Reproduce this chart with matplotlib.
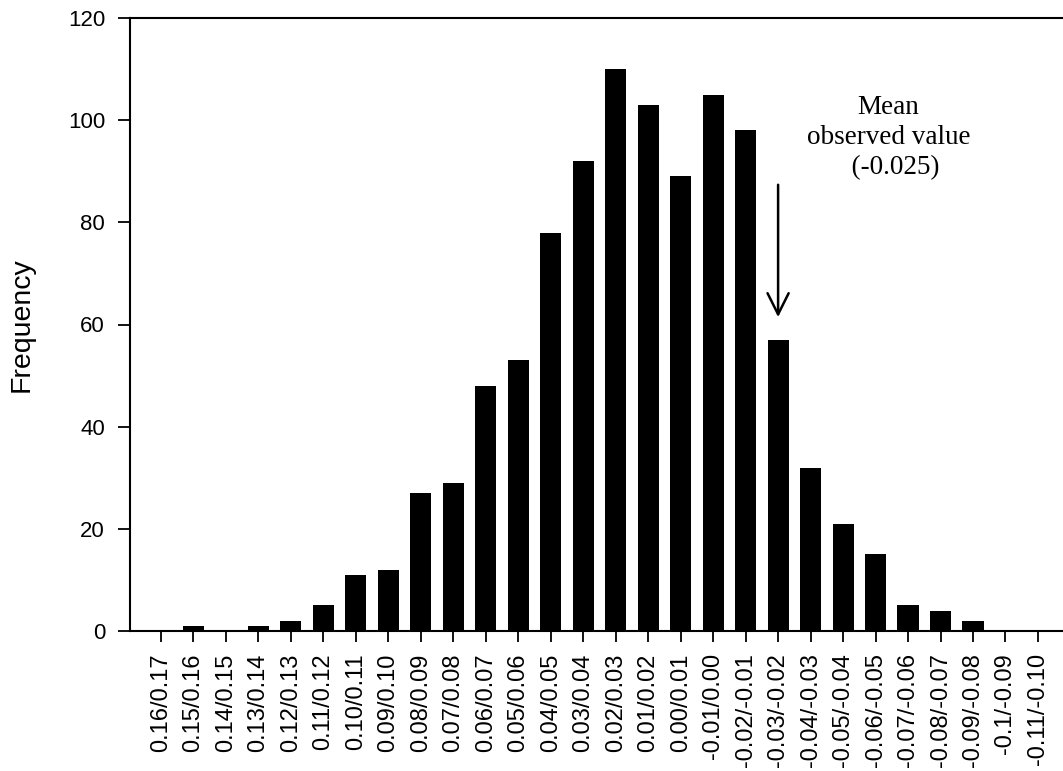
import numpy as np
import matplotlib
matplotlib.use('Agg')
import matplotlib.pyplot as plt

# bin labels (upper/lower of change) and counts
bins = ['0.16/0.17', '0.15/0.16', '0.14/0.15', '0.13/0.14', '0.12/0.13', '0.11/0.12',
        '0.10/0.11', '0.09/0.10', '0.08/0.09', '0.07/0.08', '0.06/0.07', '0.05/0.06',
        '0.04/0.05', '0.03/0.04', '0.02/0.03', '0.01/0.02', '0.00/0.01', '-0.01/0.00',
        '-0.02/-0.01', '-0.03/-0.02', '-0.04/-0.03', '-0.05/-0.04', '-0.06/-0.05',
        '-0.07/-0.06', '-0.08/-0.07', '-0.09/-0.08', '-0.1/-0.09', '-0.11/-0.10']
freq = [0, 1, 0, 1, 2, 5, 11, 12, 27, 29, 48, 53, 78, 92, 110, 103, 89, 105, 98,
        57, 32, 21, 15, 5, 4, 2, 0, 0]
yticks = [0, 20, 40, 60, 80, 100, 120]
mean_bin = '-0.03/-0.02'

plt.rcParams['font.family'] = ['Liberation Sans', 'DejaVu Sans']

fig = plt.figure(figsize=(10.63, 7.71), dpi=100)
ax = fig.add_axes([130/1063, 1-631/771, (1063-130)/1063, 613/771])

x = np.arange(len(bins))
ax.bar(x, freq, width=0.65, color='black')

ax.set_xlim(-0.95, len(bins) - 0.23)
ax.set_ylim(0, 120)
ax.set_xticks(x)
ax.set_xticklabels(bins, rotation=90, fontsize=17)
ax.set_yticks(yticks)
ax.tick_params(axis='y', labelsize=16, length=9, width=1.3, pad=9, direction='out')
ax.tick_params(axis='x', length=8, width=1.3, pad=8, direction='out')
ax.set_ylabel('Frequency', fontsize=20.5, labelpad=24)

ax.spines['right'].set_visible(False)
for s in ['left', 'top', 'bottom']:
    ax.spines[s].set_linewidth(1.5)

# arrow marking the observed mean
xm = bins.index(mean_bin)
ax.annotate('', xy=(xm, 60.9), xytext=(xm, 87.9),
            arrowprops=dict(arrowstyle='->', color='black', lw=1.8,
                            mutation_scale=38))
ax.text(22.4, 96.6, 'Mean\nobserved value\n  (-0.025)', ha='center', va='center',
        fontsize=19.5, family=['Liberation Serif', 'DejaVu Serif'], linespacing=1.26)

fig.savefig('out.png', dpi=100)
